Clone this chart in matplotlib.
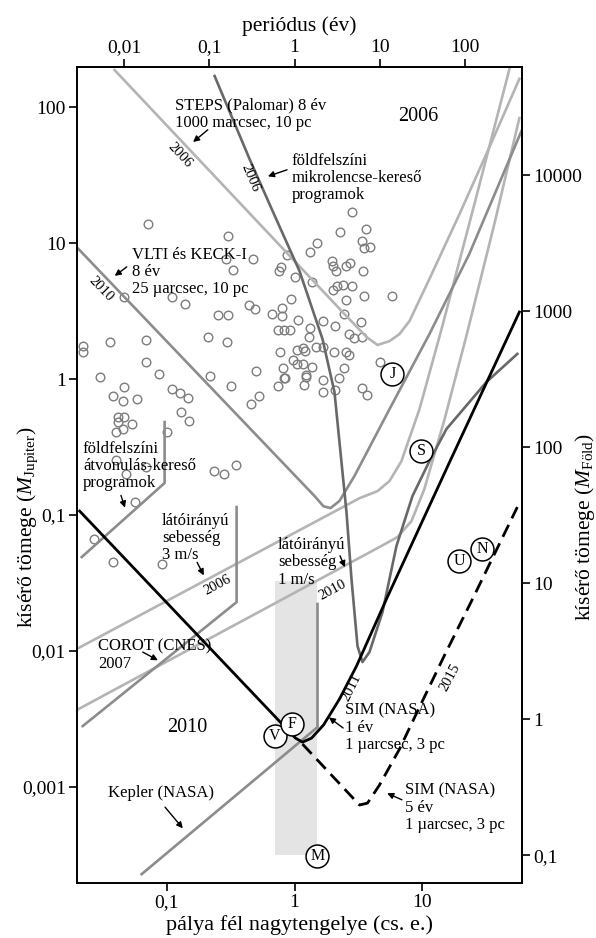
import numpy as np
import matplotlib.pyplot as plt
from matplotlib.ticker import FixedLocator, FixedFormatter, NullLocator
from matplotlib.patches import Rectangle

plt.rcParams['font.family'] = ['Liberation Serif', 'DejaVu Serif']
plt.rcParams['mathtext.fontset'] = 'custom'
plt.rcParams['mathtext.rm'] = 'Liberation Serif'
plt.rcParams['mathtext.it'] = 'Liberation Serif:italic'

MJUP_TO_MEARTH = 317.8

# ismert exobolygók: fél nagytengely (cs. e.), tömeg (M_Jupiter)
exo_a = [0.071, 0.30, 0.29, 0.47, 0.33, 0.76, 0.79, 1.00, 0.88, 0.109, 0.138, 0.046,
         0.44, 0.49, 0.66, 0.80, 0.93, 0.25, 0.30, 0.80, 1.055, 0.21, 0.069, 0.036,
         0.022, 0.022, 0.069, 0.086, 0.030, 0.216, 0.046, 0.109, 0.126, 0.145, 0.038,
         0.045, 0.058, 0.13, 0.148, 0.041, 0.046, 0.041, 0.053, 0.045, 0.040, 0.101,
         0.040, 0.048, 0.069, 0.232, 0.278, 0.345, 0.056, 0.027, 0.038, 0.091, 0.294,
         0.315, 0.495, 0.53, 0.46, 0.736, 0.82, 0.805, 0.763, 0.736, 0.82, 0.914,
         2.80, 2.29, 3.66, 1.51, 1.33, 3.35, 3.53, 3.87, 1.95, 1.99, 2.13, 2.55, 2.70,
         3.41, 1.36, 1.99, 2.17, 2.38, 2.80, 2.55, 3.53, 5.85, 1.66, 2.06, 2.42, 3.29,
         1.33, 1.29, 2.65, 2.90, 3.35, 1.46, 1.66, 1.04, 1.155, 1.20, 2.02, 2.55, 2.65,
         0.965, 1.04, 1.155, 1.38, 2.46, 4.71, 1.24, 1.24, 0.835, 1.66, 2.25, 1.18,
         2.09, 1.66, 3.35, 3.73]
exo_m = [13.8, 11.3, 7.6, 7.6, 6.3, 6.2, 6.7, 5.6, 8.2, 4.0, 3.56, 4.0,
         3.5, 3.27, 3.0, 3.33, 3.88, 2.96, 2.96, 2.91, 2.72, 2.04, 1.94, 1.87,
         1.75, 1.58, 1.33, 1.09, 1.03, 1.05, 0.87, 0.85, 0.79, 0.72, 0.75,
         0.69, 0.71, 0.57, 0.49, 0.53, 0.53, 0.48, 0.47, 0.43, 0.41, 0.41,
         0.254, 0.20, 0.225, 0.211, 0.20, 0.233, 0.125, 0.067, 0.045, 0.044, 1.87,
         0.89, 1.15, 0.75, 0.65, 0.89, 1.02, 1.20, 1.58, 2.29, 2.29, 2.29,
         16.9, 12.05, 12.7, 10.0, 8.6, 10.35, 9.2, 9.35, 7.4, 6.8, 6.2, 6.8, 7.1,
         6.2, 5.16, 4.5, 4.83, 4.91, 4.83, 3.81, 4.07, 4.07, 2.67, 2.45, 3.01, 2.62,
         2.37, 2.04, 2.14, 2.0, 2.04, 1.72, 1.72, 1.63, 1.69, 1.61, 1.58, 1.58, 1.50,
         1.38, 1.29, 1.29, 1.22, 1.20, 1.33, 1.07, 1.03, 1.02, 0.98, 1.02, 0.90,
         0.83, 0.80, 0.86, 0.76]

# Naprendszer bolygói
planet_names = ['V', 'F', 'M', 'J', 'S', 'U', 'N']
planet_a = [0.697, 0.948, 1.51, 5.85, 9.87, 19.6, 29.7]
planet_m = [0.00237, 0.0029, 0.000311, 1.09, 0.296, 0.0459, 0.0562]

# érzékenységi határok
steps_a = [0.0389, 2.38, 3.66, 4.47, 5.55, 6.64, 7.96, 11.4, 19.6, 33.7, 57.8]
steps_m = [187, 3.11, 2.04, 1.78, 1.90, 2.14, 2.67, 5.44, 16.3, 50.8, 161]

micro_a = [0.2364, 0.444, 0.673, 1.094, 1.656, 2.056, 2.553, 2.795, 3.114, 3.408,
           3.866, 4.89, 6.29, 8.40, 11.4, 15.5, 31.9, 55.7]
micro_m = [169, 41.5, 17.2, 6.22, 1.97, 0.802, 0.105, 0.0338, 0.01089, 0.0083,
           0.00984, 0.01936, 0.0592, 0.138, 0.249, 0.429, 0.951, 1.53]

vlti_a = [0.0196, 1.435, 1.687, 1.914, 2.25, 2.95, 5.55, 11.4, 23.4, 60.0]
vlti_m = [9.35, 0.138, 0.116, 0.1125, 0.127, 0.194, 0.601, 2.14, 8.30, 66.6]

rv3_a = [0.0196, 3.23, 4.47, 5.55, 6.88, 9.53, 14.4, 25.7, 48.3]
rv3_m = [0.01035, 0.133, 0.150, 0.178, 0.249, 0.601, 2.45, 19.4, 190]

rv1_a = [0.0196, 4.63, 6.41, 8.25, 10.4, 15.0, 22.2, 36.8, 57.8]
rv1_m = [0.00368, 0.0582, 0.0689, 0.0903, 0.155, 0.508, 2.07, 13.8, 83.0]

transit_a = [0.0215, 0.0959, 0.0959]
transit_m = [0.0491, 0.172, 0.483]

corot_a = [0.0219, 0.3516, 0.3516]
corot_m = [0.00281, 0.0229, 0.1145]

kepler_a = [0.0634, 1.514, 1.514]
kepler_m = [0.000229, 0.00276, 0.0222]

sim1_a = [0.0207, 1.018, 1.155, 1.359, 1.687, 2.25, 3.06, 5.25, 16.4, 57.8]
sim1_m = [0.107, 0.00229, 0.00214, 0.00229, 0.00286, 0.00444, 0.00776, 0.0241, 0.245, 3.11]

sim5_a = [1.155, 3.23, 3.73, 4.63, 6.64, 9.53, 15.0, 24.8, 55.7]
sim5_m = [0.00207, 0.000738, 0.000762, 0.001035, 0.0019, 0.00387, 0.00935, 0.0241, 0.1145]

# lakható zóna sáv
hz_a = (0.697, 1.51)
hz_m = (0.000316, 0.0327)

LIGHT = '#b4b4b4'
MID = '#8c8c8c'
DARK = '#686868'
LW = 1.9

fig = plt.figure(figsize=(5.96, 9.38), dpi=100)
ax = fig.add_axes([0.129, 0.0586, 0.747, 0.87])
ax.set_xscale('log')
ax.set_yscale('log')
ax.set_xlim(0.0197, 60.7)
ax.set_ylim(0.000197, 197)

ax.add_patch(Rectangle((hz_a[0], hz_m[0]), hz_a[1] - hz_a[0], hz_m[1] - hz_m[0],
                       facecolor='#e4e4e4', edgecolor='none', zorder=0))

ax.plot(exo_a, exo_m, 'o', ms=6.2, mfc='none', mec='#7c7c7c', mew=1.0, zorder=1)

ax.plot(steps_a, steps_m, color=LIGHT, lw=LW, zorder=2)
ax.plot(rv3_a, rv3_m, color=LIGHT, lw=LW, zorder=2)
ax.plot(rv1_a, rv1_m, color=LIGHT, lw=LW, zorder=2)
ax.plot(vlti_a, vlti_m, color=MID, lw=LW, zorder=2)
ax.plot(transit_a, transit_m, color=MID, lw=LW, zorder=2)
ax.plot(corot_a, corot_m, color=MID, lw=LW, zorder=2)
ax.plot(kepler_a, kepler_m, color=MID, lw=LW, zorder=2)
ax.plot(micro_a, micro_m, color=DARK, lw=LW, zorder=3)
ax.plot(sim1_a, sim1_m, color='black', lw=2.0, zorder=4)
ax.plot(sim5_a, sim5_m, color='black', lw=2.0, ls=(0, (4.8, 2.6)), zorder=4)

ax.plot(planet_a, planet_m, 'o', ms=16.5, mfc='white', mec='black', mew=1.1, zorder=5)
for name, a, m in zip(planet_names, planet_a, planet_m):
    ax.text(a, m, name, ha='center', va='center', fontsize=11.5, zorder=6)

# feliratok
fs = 12
def note(x, y, s, **kw):
    ax.text(x, y, s, transform=ax.transAxes, fontsize=kw.pop('fontsize', fs),
            linespacing=1.1, **kw)

def arrow(x0, y0, x1, y1):
    ax.annotate('', xy=(x1, y1), xytext=(x0, y0), xycoords='axes fraction',
                textcoords='axes fraction',
                arrowprops=dict(arrowstyle='-|>', color='black', lw=1.0,
                                mutation_scale=9, shrinkA=0, shrinkB=0))

note(0.220, 0.942, 'STEPS (Palomar) 8 év\n1000 marcsec, 10 pc', va='center')
arrow(0.294, 0.923, 0.261, 0.908)
note(0.231, 0.892, '2006', rotation=-47, ha='center', va='center', fontsize=10.5)
note(0.389, 0.864, '2006', rotation=-67, ha='center', va='center', fontsize=10.5)
note(0.483, 0.864, 'földfelszíni\nmikrolencse-kereső\nprogramok', va='center')
arrow(0.472, 0.874, 0.429, 0.866)
note(0.766, 0.939, '2006', ha='center', va='center', fontsize=14.5)
note(0.124, 0.749, 'VLTI és KECK-I\n8 év\n25 µarcsec, 10 pc', va='center')
arrow(0.112, 0.755, 0.085, 0.744)
note(0.054, 0.728, '2010', rotation=-46, ha='center', va='center', fontsize=10.5)
note(0.0135, 0.511, 'földfelszíni\nátvonulás-kereső\nprogramok', va='center')
arrow(0.099, 0.475, 0.108, 0.460)
note(0.191, 0.423, 'látóirányú\nsebesség\n3 m/s', va='center')
arrow(0.270, 0.393, 0.285, 0.377)
note(0.315, 0.365, '2006', rotation=28, ha='center', va='center', fontsize=10.5)
note(0.452, 0.393, 'látóirányú\nsebesség\n1 m/s', va='center')
arrow(0.591, 0.401, 0.602, 0.387)
note(0.575, 0.359, '2010', rotation=28, ha='center', va='center', fontsize=10.5)
note(0.047, 0.279, 'COROT (CNES)\n2007', va='center')
arrow(0.148, 0.283, 0.182, 0.273)
note(0.249, 0.191, '2010', ha='center', va='center', fontsize=14.5)
note(0.070, 0.110, 'Kepler (NASA)', va='center')
arrow(0.198, 0.093, 0.238, 0.067)
note(0.618, 0.239, '2011', rotation=64, ha='center', va='center', fontsize=10.5)
note(0.838, 0.252, '2015', rotation=62, ha='center', va='center', fontsize=10.5)
note(0.602, 0.190, 'SIM (NASA)\n1 év\n1 µarcsec, 3 pc', va='center')
arrow(0.598, 0.190, 0.566, 0.203)
note(0.737, 0.092, 'SIM (NASA)\n5 év\n1 µarcsec, 3 pc', va='center')
arrow(0.730, 0.102, 0.697, 0.110)

# tengelyek
tick_kw = dict(direction='out', length=6, width=1.2, labelsize=14, pad=2)
ax.xaxis.set_major_locator(FixedLocator([0.1, 1, 10]))
ax.xaxis.set_major_formatter(FixedFormatter(['0,1', '1', '10']))
ax.xaxis.set_minor_locator(NullLocator())
ax.yaxis.set_major_locator(FixedLocator([0.001, 0.01, 0.1, 1, 10, 100]))
ax.yaxis.set_major_formatter(FixedFormatter(['0,001', '0,01', '0,1', '1', '10', '100']))
ax.yaxis.set_minor_locator(NullLocator())
ax.tick_params(**tick_kw)
for sp in ax.spines.values():
    sp.set_linewidth(1.4)

top = ax.secondary_xaxis('top', functions=(lambda a: np.abs(a) ** 1.5,
                                           lambda p: np.abs(p) ** (2 / 3)))
top.xaxis.set_major_locator(FixedLocator([0.01, 0.1, 1, 10, 100]))
top.xaxis.set_major_formatter(FixedFormatter(['0,01', '0,1', '1', '10', '100']))
top.xaxis.set_minor_locator(NullLocator())
top.tick_params(**tick_kw)
top.spines['top'].set_linewidth(1.4)
top.set_xlabel('periódus (év)', fontsize=15.5, labelpad=6)

right = ax.secondary_yaxis('right', functions=(lambda m: m * MJUP_TO_MEARTH,
                                               lambda m: m / MJUP_TO_MEARTH))
right.yaxis.set_major_locator(FixedLocator([0.1, 1, 10, 100, 1000, 10000]))
right.yaxis.set_major_formatter(FixedFormatter(['0,1', '1', '10', '100', '1000', '10000']))
right.yaxis.set_minor_locator(NullLocator())
right.tick_params(**tick_kw)
right.spines['right'].set_linewidth(1.4)
right.spines['right'].set_color('#444444')

ax.set_xlabel('pálya fél nagytengelye (cs. e.)', fontsize=16, labelpad=3)
ax.text(-0.110, 0.436, 'kísérő tömege ($M_{\\mathrm{Jupiter}}$)', transform=ax.transAxes,
        rotation=90, ha='center', va='center', fontsize=15.5)
ax.text(1.142, 0.436, 'kísérő tömege ($M_{\\mathrm{Föld}}$)', transform=ax.transAxes,
        rotation=90, ha='center', va='center', fontsize=15.5)

fig.savefig('out.png', dpi=100)
